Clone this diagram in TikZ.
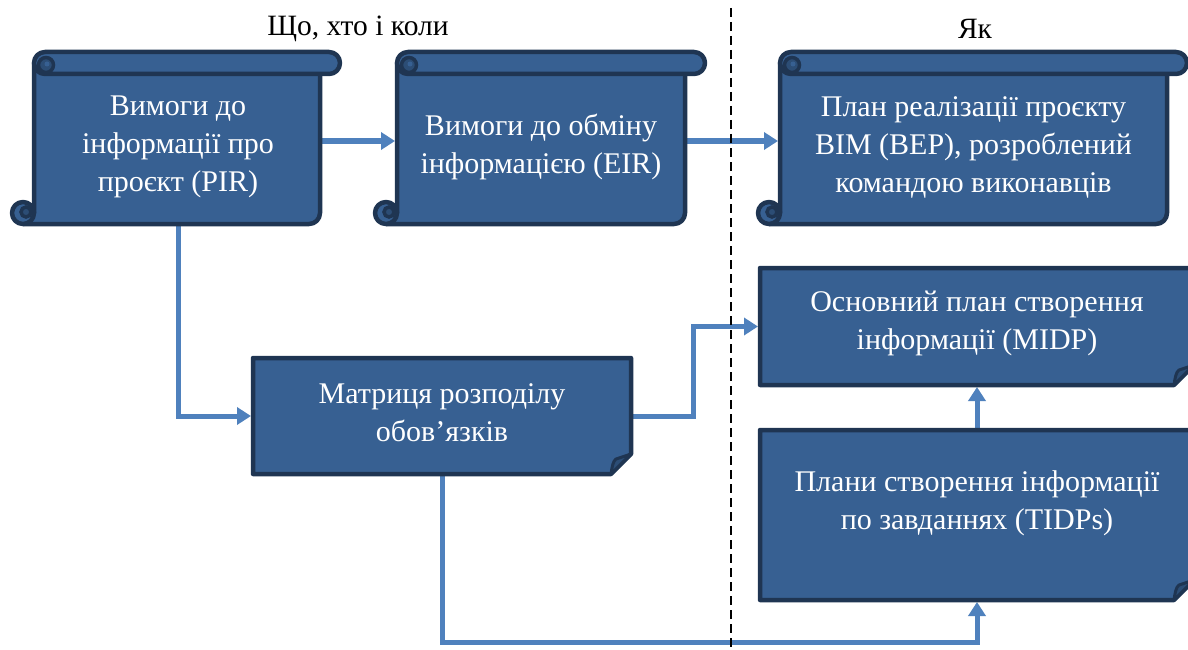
\documentclass[tikz,border=0pt]{standalone}
\usepackage{fontspec}
\setmainfont{Liberation Serif}
\usetikzlibrary{arrows.meta,backgrounds}

\definecolor{boxfill}{RGB}{55,96,146}
\definecolor{boxline}{RGB}{31,53,82}
\definecolor{flapfill}{RGB}{44,77,117}
\definecolor{flow}{RGB}{79,129,189}

\tikzset{
  shapeline/.style={draw=boxline, line width=4.5pt, fill=boxfill, line join=round},
  curlline/.style={draw=boxline, line width=3.5pt},
  anchorbox/.style={draw=none, fill=none, inner sep=0pt, outer sep=0pt},
  boxtext/.style={text=white, align=center, font=\fontsize{30}{38}\selectfont},
  flowarrow/.style={draw=flow, line width=5pt, line join=miter,
    -{Triangle[width=17pt,length=14pt]}, shorten >=2pt},
  divider/.style={draw=black, line width=2pt, dash pattern=on 9pt off 5pt},
  heading/.style={font=\fontsize{29.5}{34}\selectfont, inner sep=0pt}
}

% scroll: #1 left, #2 top, #3 right, #4 bottom (outer extent)
\newcommand{\scrollshape}[4]{%
  % sheet
  \path[shapeline] ({#1+22},{#2+11}) -- ({#1+22},{#4-11}) -- ({#1+11},{#4})
    [rounded corners=11pt] -- ({#3-20},{#4}) -- ({#3-20},{#2+11}) [sharp corners] -- cycle;
  % upper roll
  \path[shapeline, rounded corners=11pt] ({#1+22},{#2}) rectangle ({#3},{#2+22});
  \path[curlline, fill=flapfill] ({#1+34},{#2+13}) circle[radius=7.5];
  \path[fill=boxfill] ({#1+35},{#2+12}) circle[radius=2.5];
  % lower curl
  \path[shapeline] ({#1+11},{#4-11}) circle[radius=11];
  \path[curlline, fill=flapfill] ({#1+14},{#4-12}) circle[radius=5];
}

% rectangle with a folded lower right corner: #1 left, #2 top, #3 right, #4 bottom
\newcommand{\foldshape}[4]{%
  \path[shapeline] ({#1},{#2}) -- ({#3},{#2}) -- ({#3},{#4-20}) -- ({#3-20},{#4}) -- ({#1},{#4}) -- cycle;
  \path[draw=boxline, line width=3pt, fill=flapfill, line join=round]
    ({#3-20},{#4}) .. controls ({#3-19},{#4-7}) and ({#3-18},{#4-13}) .. ({#3-15},{#4-15})
    -- ({#3},{#4-20}) -- cycle;
}

\begin{document}
\begin{tikzpicture}[x=1pt, y=-1pt]
  \useasboundingbox (0,0) rectangle (1188,650);
  \clip (0,0) rectangle (1188,650);

  % column headings
  \node[heading] (hwhat) at (358,29) {Що, хто і коли};
  \node[heading] (hhow) at (975,29) {Як};

  % scrolls of the upper row
  \scrollshape{12}{52}{340}{224}
  \node[anchorbox, minimum width=284pt, minimum height=164pt] (pir) at (178,141) {};
  \node[boxtext] (pirtext) at (178,147) {Вимоги до\\інформації про\\проєкт (PIR)};

  \scrollshape{375}{52}{705}{224}
  \node[anchorbox, minimum width=288pt, minimum height=164pt] (eir) at (541,141) {};
  \node[boxtext] (eirtext) at (541,147) {Вимоги до обміну\\інформацією (EIR)};

  \scrollshape{758}{52}{1187}{224}
  \node[anchorbox, minimum width=387pt, minimum height=164pt] (bep) at (973.5,141) {};
  \node[boxtext] (beptext) at (973.5,147)
    {План реалізації проєкту\\BIM (BEP), розроблений\\командою виконавців};

  % folded boxes
  \foldshape{253}{358}{631}{474}
  \node[anchorbox, minimum width=378pt, minimum height=116pt] (matrix) at (442,416) {};
  \node[boxtext] (matrixtext) at (442,413) {Матриця розподілу\\обов’язків};

  \foldshape{760}{268}{1194}{385}
  \node[anchorbox, minimum width=434pt, minimum height=117pt] (midp) at (977,326.5) {};
  \node[boxtext] (midptext) at (977,323) {Основний план створення\\інформації (MIDP)};

  \foldshape{760}{430}{1194}{600}
  \node[anchorbox, minimum width=434pt, minimum height=170pt] (tidp) at (977,515) {};
  \node[boxtext] (tidptext) at (977,503) {Плани створення інформації\\по завданнях (TIDPs)};

  % connectors run beneath the shapes
  \begin{scope}[on background layer]
    \coordinate (lowrun) at (700,642);
    \draw[flowarrow] (pir.east) -- (eir.west);
    \draw[flowarrow] (eir.east) -- (bep.west);
    \draw[flowarrow] (pir.south) |- (matrix.west);
    \draw[flowarrow] (matrix.east) -- ++(62,0) |- (midp.west);
    \draw[flowarrow] (tidp.north) -- (midp.south);
    \draw[flowarrow] (matrix.south) |- (lowrun) -| (tidp.south);
  \end{scope}

  % divider between the two columns
  \coordinate (divtop) at (731,8);
  \coordinate (divbot) at (731,650);
  \draw[divider] (divtop) -- (divbot);
\end{tikzpicture}
\end{document}
